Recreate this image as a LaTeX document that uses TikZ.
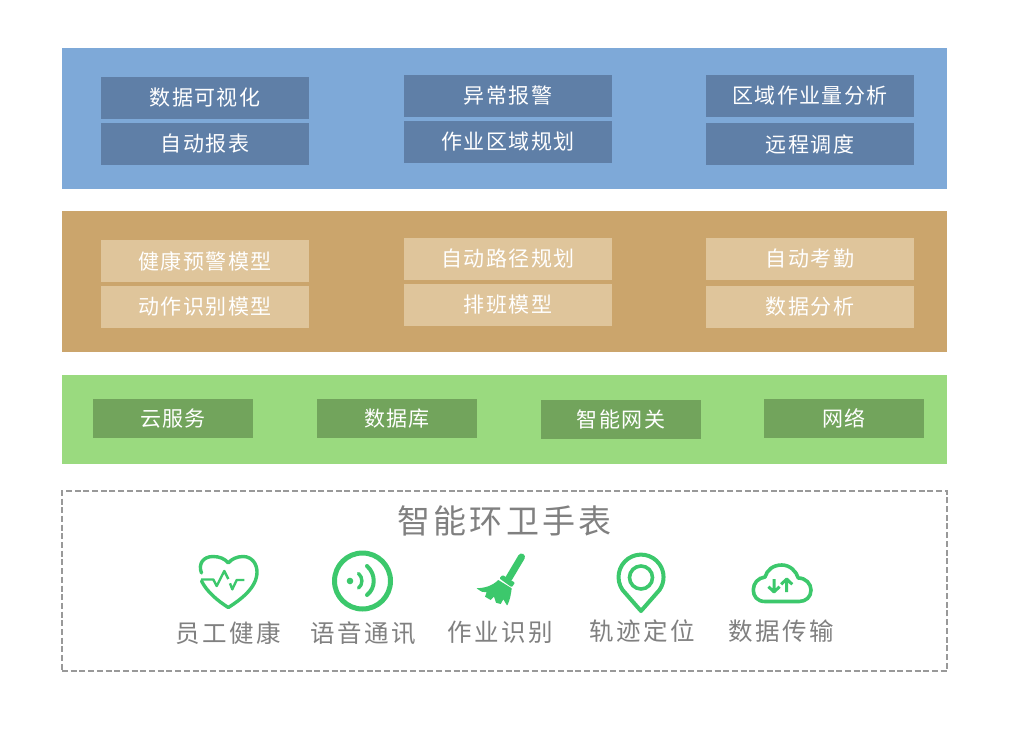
\documentclass[tikz,border=0pt]{standalone}
\usepackage{fontspec}
\newfontfamily\cjk[LetterSpace=7]{Noto Sans CJK SC}
\newfontfamily\cjkwide[LetterSpace=10]{Noto Sans CJK SC}
\definecolor{bluepanel}{HTML}{7EA9D8}
\definecolor{blueinner}{HTML}{5F7FA7}
\definecolor{tanpanel}{HTML}{CBA56C}
\definecolor{taninner}{HTML}{DFC59B}
\definecolor{greenpanel}{HTML}{9ADA7F}
\definecolor{greeninner}{HTML}{72A45C}
\definecolor{icongreen}{HTML}{3CC86C}
\definecolor{labelgray}{HTML}{808080}
\tikzset{
  panel/.style={minimum width=885pt,inner sep=0pt,outer sep=0pt},
  wide/.style={minimum width=208pt,minimum height=42pt,inner sep=0pt,white,font=\cjk\fontsize{21}{25}\selectfont},
  narrow/.style={minimum width=160pt,minimum height=39pt,inner sep=0pt,white,font=\cjk\fontsize{21}{25}\selectfont},
  iconlabel/.style={inner sep=0pt,labelgray,font=\cjkwide\fontsize{24.5}{29}\selectfont},
  iconline/.style={draw=icongreen,line width=3.4pt,line cap=round,line join=round},
}
\begin{document}
\begin{tikzpicture}[x=1pt,y=-1pt,>=stealth]
	\useasboundingbox (0,0) rectangle (1024,738);
	\fill[white] (0,0) rectangle (1024,738);
	% top layer
	\node[panel,fill=bluepanel,minimum height=141pt] (toplayer) at (504.5,118.5) {};
	\node[wide,fill=blueinner] (datavis) at (205,98) {数据可视化};
	\node[wide,fill=blueinner] (autoreport) at (205,144) {自动报表};
	\node[wide,fill=blueinner] (alarm) at (508,96) {异常报警};
	\node[wide,fill=blueinner] (areaplan) at (508,142) {作业区域规划};
	\node[wide,fill=blueinner] (areaload) at (810,96) {区域作业量分析};
	\node[wide,fill=blueinner] (remote) at (810,144) {远程调度};
	% model layer
	\node[panel,fill=tanpanel,minimum height=141pt] (modellayer) at (504.5,281.5) {};
	\node[wide,fill=taninner] (healthmodel) at (205,261) {健康预警模型};
	\node[wide,fill=taninner] (actionmodel) at (205,307) {动作识别模型};
	\node[wide,fill=taninner] (pathplan) at (508,259) {自动路径规划};
	\node[wide,fill=taninner] (shiftmodel) at (508,305) {排班模型};
	\node[wide,fill=taninner] (attendance) at (810,259) {自动考勤};
	\node[wide,fill=taninner] (analysis) at (810,307) {数据分析};
	% service layer
	\node[panel,fill=greenpanel,minimum height=89pt] (servicelayer) at (504.5,419.5) {};
	\node[narrow,fill=greeninner] (cloud) at (173,418.5) {云服务};
	\node[narrow,fill=greeninner] (database) at (397,418.5) {数据库};
	\node[narrow,fill=greeninner] (gateway) at (621,419.5) {智能网关};
	\node[narrow,fill=greeninner] (network) at (844,418.5) {网络};
	% watch
	\node[panel,draw=labelgray!80,dash pattern=on 6pt off 2.7pt,line width=1.5pt,minimum height=180pt] (watch) at (504.5,581) {};
	\node[inner sep=0pt,labelgray,font=\cjkwide\fontsize{33}{39}\selectfont] (watchtitle) at (504.5,521) {智能环卫手表};
	\node[iconlabel] (staff) at (228.5,633) {员工健康};
	\node[iconlabel] (voice) at (363,633) {语音通讯};
	\node[iconlabel] (work) at (500.5,632) {作业识别};
	\node[iconlabel] (track) at (642,631) {轨迹定位};
	\node[iconlabel] (transfer) at (781,631) {数据传输};
	% heart
	\draw[iconline] (201.5,573) .. controls (198,564) and (203,556.5) .. (213,556.5) .. controls (220,556.5) and (225,559) .. (228.3,563) .. controls (231.5,559) and (237,556.5) .. (243,556.5) .. controls (252,556.5) and (257,564) .. (257,572) .. controls (257,588) and (240,600) .. (228.3,607.5) .. controls (218,601) and (207,592) .. (201.5,581);
	\draw[icongreen,line width=2.4pt,line join=round] (201,579.5) -- (213.3,579.5) -- (216.7,586) -- (224.3,571) -- (228.3,579);
	\draw[icongreen,line width=2.4pt,line join=round] (230,583.3) -- (232.3,589.3) -- (236.7,580) -- (244.3,580);
	% voice
	\draw[icongreen,line width=5pt] (362.5,581) circle (28);
	\fill[icongreen] (350,581) circle (3.3);
	\draw[iconline] (358.5,573.5) .. controls (363,577) and (363,585) .. (358.5,588);
	\draw[iconline,line width=4pt] (367,566) .. controls (376,574) and (376,588) .. (367,595);
	% broom
	\draw[icongreen,line width=7pt,line cap=round] (521.5,557) -- (509,578);
	\fill[icongreen,rounded corners=1pt] (499.3,578.3) -- (502.7,575) -- (515,582.7) -- (511.7,587.3) -- cycle;
	\fill[icongreen] (498.3,580) .. controls (492,586) and (485,588) .. (476.5,588.3) -- (481.7,591.7) -- (486.7,592.3) -- (485,596.7) -- (490.7,600) -- (494,596.7) -- (496,602.7) -- (500.7,604) -- (503.3,599.3) -- (506.7,605) -- (507.5,605) .. controls (510,600) and (511,594) .. (511.7,588.3) -- cycle;
	% pin
	\draw[icongreen,line width=4pt,line join=round] (641,611) -- (622.6,590) arc[start angle=145,end angle=395,radius=22.5] -- cycle;
	\draw[icongreen,line width=3.6pt] (641,577.5) circle (11.5);
	% cloud
	\draw[iconline,line width=3.6pt] (765,601.5) .. controls (757,601.5) and (753.3,596) .. (753.3,590) .. controls (753.3,583) and (758,578) .. (765,577) .. controls (767,570) and (773,565) .. (781.7,565) .. controls (790,565) and (796,571) .. (798.3,578) .. controls (806,578) and (811,584) .. (811,590) .. controls (811,597) and (806,601.5) .. (799,601.5) -- cycle;
	\draw[icongreen,line width=3pt,line join=round] (774,579) -- (774,592) (768.5,586.7) -- (774,592) -- (779.5,586.7);
	\draw[icongreen,line width=3pt,line join=round] (786.7,592) -- (786.7,579) (781.2,584.3) -- (786.7,579) -- (792.2,584.3);
\end{tikzpicture}
\end{document}
